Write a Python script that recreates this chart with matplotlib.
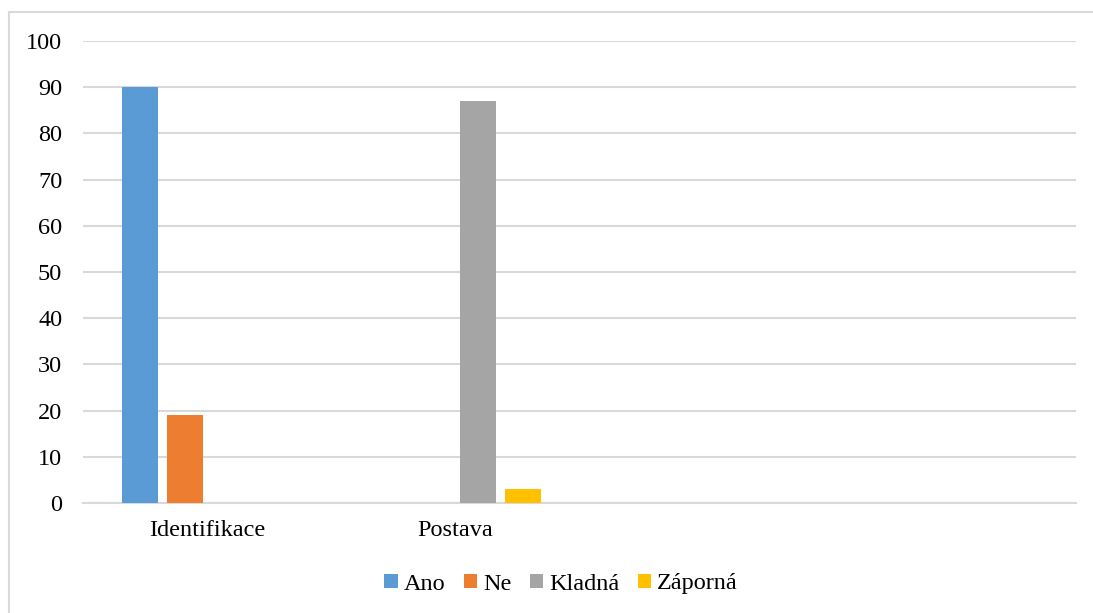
import matplotlib
matplotlib.use("Agg")
import matplotlib.pyplot as plt
import numpy as np
from matplotlib.lines import Line2D

categories = ["Identifikace", "Postava", "", ""]
series_names = ["Ano", "Ne", "Kladná", "Záporná"]
ano = [90, 0, 0, 0]
ne = [19, 0, 0, 0]
kladna = [0, 87, 0, 0]
zaporna = [0, 3, 0, 0]
colors = ["#5B9BD5", "#ED7D31", "#A5A5A5", "#FFC000"]
yticks = [0, 10, 20, 30, 40, 50, 60, 70, 80, 90, 100]

plt.rcParams['font.family'] = ['Liberation Serif', 'DejaVu Serif']

W, H = 1093, 613
fig = plt.figure(figsize=(W / 100, H / 100), dpi=100, facecolor="white",
                 edgecolor="white", linewidth=0)
ax = fig.add_axes([83 / W, (H - 503) / H, (1076 - 83) / W, (503 - 41) / H])

# chart border (left and top edges visible)
bx, by = 8.5 / W, 1 - 11.5 / H
fig.lines.append(Line2D([bx, bx], [0, by], transform=fig.transFigure,
                        color="#D9D9D9", linewidth=1.5))
fig.lines.append(Line2D([bx, 1.0], [by, by], transform=fig.transFigure,
                        color="#D9D9D9", linewidth=1.5, clip_on=False))

x = np.arange(len(categories))
width = 36 / 248
step = 45 / 248
data = [ano, ne, kladna, zaporna]
for i, (name, vals, c) in enumerate(zip(series_names, data, colors)):
    off = (i - 1.5) * step
    ax.bar(x + off, vals, width, color=c, label=name, zorder=3)

ax.set_xlim(-0.5, len(categories) - 0.5)
ax.set_ylim(0, 100)
ax.set_yticks(yticks)
ax.set_xticks(x)
ax.set_xticklabels(categories)
ax.yaxis.grid(True, color="#D9D9D9", linewidth=1.5, zorder=0)
ax.set_axisbelow(True)
for s in ["top", "right", "left"]:
    ax.spines[s].set_visible(False)
ax.spines["bottom"].set_color("#D9D9D9")
ax.spines["bottom"].set_linewidth(1.5)
ax.tick_params(axis="both", length=0, labelsize=17.5, colors="black")
ax.tick_params(axis="x", pad=12)
ax.tick_params(axis="y", pad=15)

leg = fig.legend(loc="center", bbox_to_anchor=(561 / W, 1 - 584 / H), ncol=4,
                 frameon=False, fontsize=17.5, handlelength=0.55, handleheight=0.55,
                 handletextpad=0.25, columnspacing=0.75)

fig.savefig("out.png", dpi=100, facecolor="white")
